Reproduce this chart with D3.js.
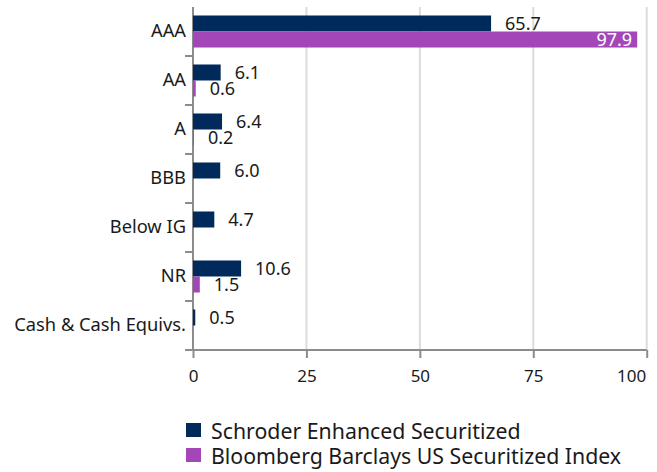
<!DOCTYPE html>
<html>
<head>
<meta charset="utf-8">
<script src="https://cdn.jsdelivr.net/npm/d3@7"></script>
<style>
  body { margin: 0; background: #fff; }
  text { font-family: "Noto Sans", sans-serif; fill: #1a1a1a; }
</style>
</head>
<body>
<div id="chart"></div>
<script>
const categories = ['AAA', 'AA', 'A', 'BBB', 'Below IG', 'NR', 'Cash & Cash Equivs.'];
const seriesNames = ['Schroder Enhanced Securitized', 'Bloomberg Barclays US Securitized Index'];
const schroderValues = [65.7, 6.1, 6.4, 6.0, 4.7, 10.6, 0.5];
const bloombergValues = [97.9, 0.6, 0.2, null, null, 1.5, null];
const xTicks = [0, 25, 50, 75, 100];
const colors = ['#002a5c', '#a347b8'];

const width = 657;
const height = 472;
const plotLeft = 193, plotRight = 646.7, plotTop = 7, plotBottom = 350;

const svg = d3.select('#chart')
    .append('svg')
    .attr('width', width)
    .attr('height', height);

const x = d3.scaleLinear().domain([0, 100]).range([plotLeft, plotRight]);
const y = d3.scaleBand().domain(categories).range([plotTop, plotBottom]);
const ySub = d3.scaleBand().domain([0, 1]).range([0, y.bandwidth()]).paddingOuter(0.53);

// grid lines
svg.append('g')
    .selectAll('line')
    .data(xTicks.slice(1))
    .enter().append('line')
    .attr('x1', d => x(d)).attr('x2', d => x(d))
    .attr('y1', plotTop).attr('y2', plotBottom)
    .attr('stroke', '#dcdcdc')
    .attr('stroke-width', 2);

// x axis
const xAxis = svg.append('g')
    .attr('transform', 'translate(0,' + plotBottom + ')')
    .call(d3.axisBottom(x).tickValues(xTicks).tickSize(8).tickSizeOuter(0).tickPadding(12));
xAxis.select('.domain').attr('stroke', '#8c8c8c').attr('stroke-width', 2).attr('d', 'M' + (plotLeft - 8) + ',0H' + plotRight);
xAxis.selectAll('.tick line').attr('stroke', '#8c8c8c').attr('stroke-width', 2);
xAxis.selectAll('.tick text')
    .attr('font-size', 17)
    .attr('font-family', '"Noto Sans", sans-serif')
    .attr('fill', '#1a1a1a');
// keep the last label inside the picture
xAxis.selectAll('.tick text').filter(d => d === 100)
    .attr('text-anchor', 'end')
    .attr('x', -1);

// y axis
const yAxis = svg.append('g')
    .attr('transform', 'translate(' + plotLeft + ',0)')
    .call(d3.axisLeft(y).tickSize(0).tickPadding(7));
yAxis.select('.domain').attr('stroke', '#8c8c8c').attr('stroke-width', 2).attr('d', 'M0,' + plotTop + 'V' + plotBottom);
yAxis.selectAll('.tick text')
    .attr('font-size', 18.3)
    .attr('font-family', '"Noto Sans", sans-serif')
    .attr('fill', '#1a1a1a');
// separators between categories
svg.append('g')
    .selectAll('line')
    .data(categories.slice(1))
    .enter().append('line')
    .attr('x1', plotLeft - 8).attr('x2', plotLeft)
    .attr('y1', d => y(d)).attr('y2', d => y(d))
    .attr('stroke', '#8c8c8c')
    .attr('stroke-width', 2);

// bars
const rows = [schroderValues, bloombergValues];
rows.forEach((vals, si) => {
    const g = svg.append('g');
    const data = categories.map((c, i) => ({ c: c, v: vals[i] })).filter(d => d.v !== null);
    g.selectAll('rect')
        .data(data)
        .enter().append('rect')
        .attr('x', x(0))
        .attr('y', d => y(d.c) + ySub(si))
        .attr('width', d => x(d.v) - x(0))
        .attr('height', ySub.bandwidth())
        .attr('fill', colors[si]);

    g.selectAll('text')
        .data(data)
        .enter().append('text')
        .attr('x', d => d.v > 90 ? x(d.v) - 5 : x(d.v) + 14)
        .attr('y', d => y(d.c) + ySub(si) + ySub.bandwidth() / 2)
        .attr('dy', '0.36em')
        .attr('text-anchor', d => d.v > 90 ? 'end' : 'start')
        .attr('font-size', 18)
        .style('fill', d => d.v > 90 ? '#ffffff' : '#1a1a1a')
        .text(d => d.v.toFixed(1));
});

// legend
const legend = svg.append('g');
seriesNames.forEach((name, i) => {
    legend.append('rect')
        .attr('x', 186).attr('y', 423 + i * 25)
        .attr('width', 15).attr('height', 14)
        .attr('fill', colors[i]);
    legend.append('text')
        .attr('x', 211).attr('y', 431 + i * 25)
        .attr('dy', '0.36em')
        .attr('font-size', 21.3)
        .text(name);
});
</script>
</body>
</html>
